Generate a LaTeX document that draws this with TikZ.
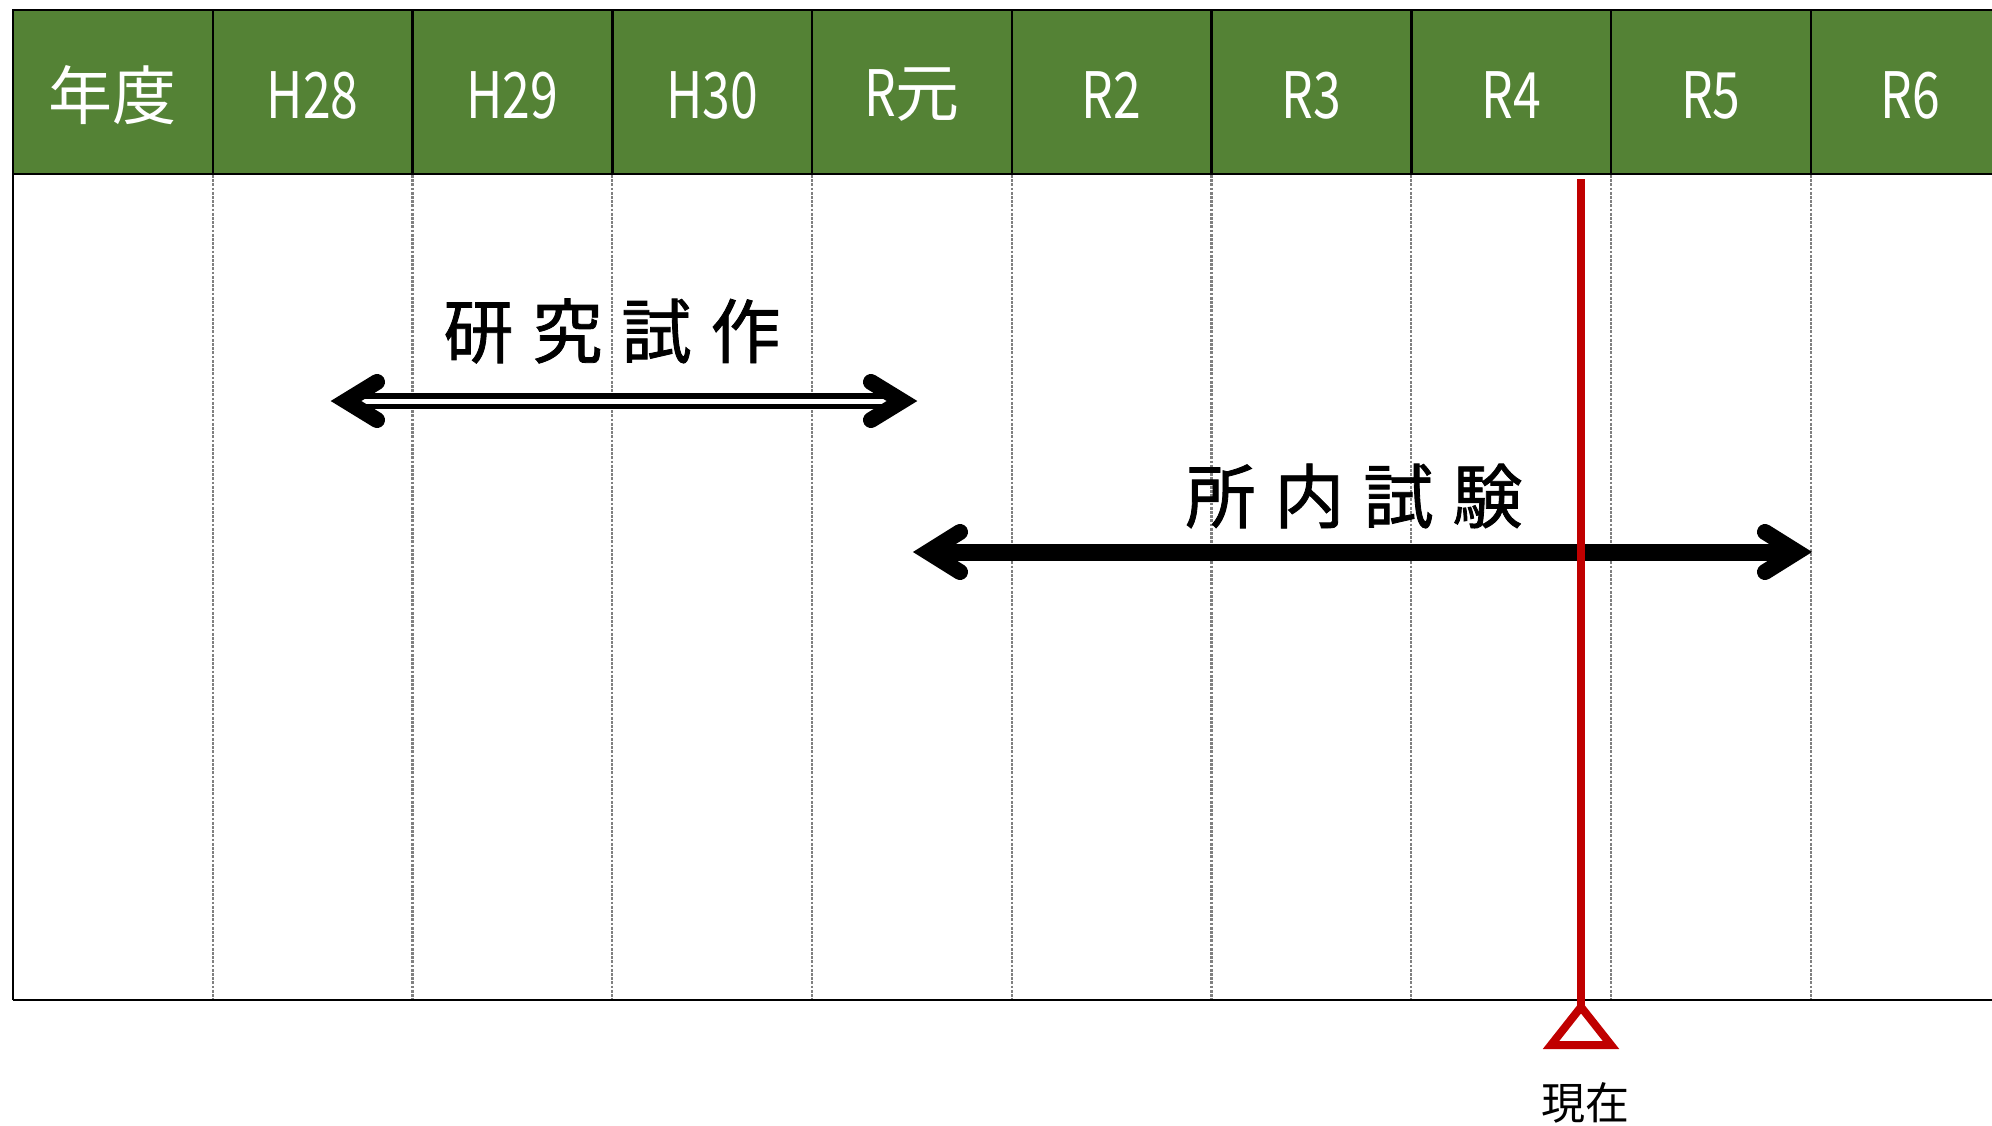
\documentclass[tikz,border=0pt]{standalone}
\usepackage{fontspec}
\setmainfont{Noto Sans CJK JP}
\newfontfamily\lblfont[FakeBold=1.2]{Noto Sans CJK JP}
\usepackage{graphicx}
\usetikzlibrary{calc}
\definecolor{hdrgreen}{HTML}{548235}
\definecolor{nowred}{HTML}{C00000}
\definecolor{gridgray}{HTML}{808080}
\newcommand{\cnd}[1]{\scalebox{0.78}[1]{#1}}
\tikzset{
  border/.style={draw=black, line width=1.25pt},
  gridline/.style={draw=gridgray, line width=1.15pt, dash pattern=on 1.4pt off 0.7pt},
  hdrtext/.style={text=white, font=\fontsize{32pt}{38pt}\selectfont, inner sep=0pt},
  lbl/.style={text=black, font=\lblfont\fontsize{35pt}{40pt}\selectfont, inner sep=0pt},
  chev/.style={draw=black, line width=8pt, line cap=round, line join=miter},
  nowline/.style={draw=nowred, line width=4pt},
}
\begin{document}
\begin{tikzpicture}[x=0.5pt,y=-0.5pt]
\useasboundingbox (0,0) rectangle (1992,1125);
\clip (0,0) rectangle (1992,1125);
% header background
\fill[hdrgreen] (13,10) rectangle (2013,174);
% header texts
\foreach \i/\t in {0/年度,1/\cnd{H28},2/\cnd{H29},3/\cnd{H30},4/\cnd{R}元,5/\cnd{R2},6/\cnd{R3},7/\cnd{R4},8/\cnd{R5},9/\cnd{R6}}
  \node[hdrtext] (h\i) at ({13+199.75*(\i+0.5)},95) {\t};
% dotted grid
\foreach \i in {1,...,9}
  \draw[gridline] ({13+199.75*\i},175) -- ({13+199.75*\i},1000);
% borders
\draw[border] (13,1000) -- (13,10) -- (2013,10);
\draw[border] (13,174) -- (2013,174);
\draw[border] (13,1000) -- (2013,1000);
\foreach \i in {1,...,9}
  \draw[border] ({13+199.75*\i},10) -- ({13+199.75*\i},174);
% arrow 1 (double)
\coordinate (a1l) at (331,401);
\coordinate (a1r) at (917,401);
\draw[black, line width=8pt] ($(a1l)+(20,0)$) -- ($(a1r)+(-20,0)$);
\draw[white, line width=2.5pt, line cap=round] ($(a1l)+(30,0)$) -- ($(a1r)+(-30,0)$);
\draw[chev] ($(a1l)+(46,-19)$) -- ($(a1l)+(15,0)$) -- ($(a1l)+(46,19)$);
\draw[chev] ($(a1r)+(-46,-19)$) -- ($(a1r)+(-15,0)$) -- ($(a1r)+(-46,19)$);
\node[lbl] (t1) at (612,331) {研\hspace{9.5pt}究\hspace{9.5pt}試\hspace{9.5pt}作};
% arrow 2
\coordinate (a2l) at (913,552);
\coordinate (a2r) at (1812,552);
\draw[black, line width=8.5pt] ($(a2l)+(20,0)$) -- ($(a2r)+(-20,0)$);
\draw[chev] ($(a2l)+(47,-20)$) -- ($(a2l)+(15,0)$) -- ($(a2l)+(47,20)$);
\draw[chev] ($(a2r)+(-47,-20)$) -- ($(a2r)+(-15,0)$) -- ($(a2r)+(-47,20)$);
\node[lbl] (t2) at (1354,496) {所\hspace{9.5pt}内\hspace{9.5pt}試\hspace{9.5pt}験};
% now marker
\coordinate (nowtop) at (1581,179);
\coordinate (tri) at (1581,1007);
\draw[nowline] (nowtop) -- (tri);
\draw[nowline, line join=miter] (tri) -- (1611,1045) -- (1551,1045) -- cycle;
\node[text=black, font=\fontsize{22pt}{26pt}\selectfont, inner sep=0pt] (now) at (1585,1103) {現在};
\end{tikzpicture}
\end{document}
